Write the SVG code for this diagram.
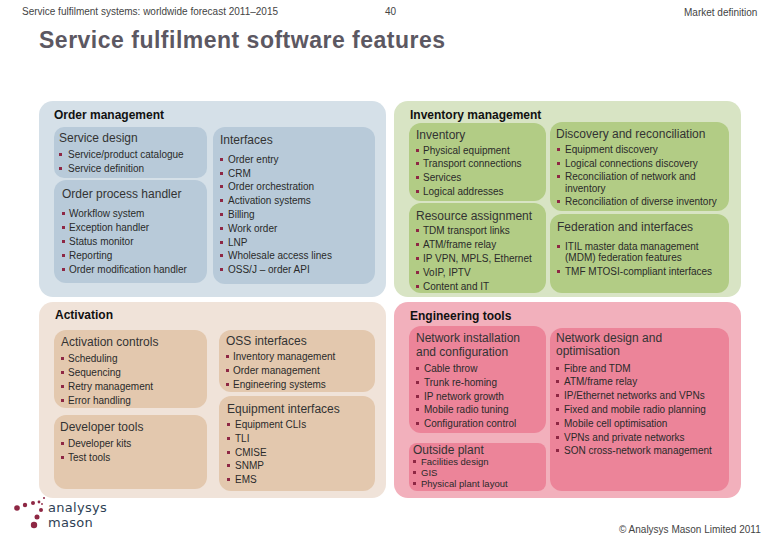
<svg xmlns="http://www.w3.org/2000/svg" width="780" height="540" viewBox="0 0 780 540">
<style>
text{font-family:"Liberation Sans",Arial,sans-serif;fill:#1e1e1e}
.t{font-size:10px;fill:#444}
.title{font-size:23px;font-weight:700;fill:#5c5862;letter-spacing:.5px}
.h{font-size:12px;font-weight:700;fill:#111}
.s{font-size:12px;fill:#333}
.i{font-size:10px;fill:#2a2a2a}
.n{font-size:9.5px}
.b{fill:#8e2744}
.m{fill:#2f3f55;font-family:"DejaVu Sans",sans-serif;font-size:13px;letter-spacing:.3px}
</style>
<defs><rect id="b" x="0" y="-5" width="3" height="3" class="b"/></defs>
<rect width="780" height="540" fill="#fff"/>
<text class="t" x="22" y="15">Service fulfilment systems: worldwide forecast 2011–2015</text>
<text class="t" x="385" y="15">40</text>
<text class="t" x="684" y="16">Market definition</text>
<text class="title" x="39" y="48">Service fulfilment software features</text>

<g id="order-management">
<rect x="39" y="101" width="347" height="196" rx="14" fill="#d5e0e8"/>
<text class="h" x="54" y="119">Order management</text>
<g id="service-design"><rect x="54" y="127" width="153" height="51" rx="10" fill="#b8cad9"/>
<text class="s" x="59" y="142">Service design</text>
<use href="#b" x="59" y="158"/><text class="i" x="68" y="158">Service/product catalogue</text>
<use href="#b" x="59" y="172"/><text class="i" x="68" y="172">Service definition</text></g>
<g id="order-process-handler"><rect x="54" y="180" width="153" height="103" rx="12" fill="#b8cad9"/>
<text class="s" x="62" y="198">Order process handler</text>
<use href="#b" x="62" y="217"/><text class="i" x="69" y="217">Workflow system</text>
<use href="#b" x="62" y="231"/><text class="i" x="69" y="231">Exception handler</text>
<use href="#b" x="62" y="245"/><text class="i" x="69" y="245">Status monitor</text>
<use href="#b" x="62" y="259"/><text class="i" x="69" y="259">Reporting</text>
<use href="#b" x="62" y="273"/><text class="i" x="69" y="273">Order modification handler</text></g>
<g id="interfaces"><rect x="213" y="127" width="162" height="157" rx="12" fill="#b8cad9"/>
<text class="s" x="220" y="144">Interfaces</text>
<use href="#b" x="220" y="163"/><text class="i" x="228" y="163">Order entry</text>
<use href="#b" x="220" y="177"/><text class="i" x="228" y="177">CRM</text>
<use href="#b" x="220" y="190"/><text class="i" x="228" y="190">Order orchestration</text>
<use href="#b" x="220" y="204"/><text class="i" x="228" y="204">Activation systems</text>
<use href="#b" x="220" y="218"/><text class="i" x="228" y="218">Billing</text>
<use href="#b" x="220" y="232"/><text class="i" x="228" y="232">Work order</text>
<use href="#b" x="220" y="246"/><text class="i" x="228" y="246">LNP</text>
<use href="#b" x="220" y="259"/><text class="i" x="228" y="259">Wholesale access lines</text>
<use href="#b" x="220" y="273"/><text class="i" x="228" y="273">OSS/J – order API</text></g>
</g>

<g id="inventory-management">
<rect x="394" y="101" width="347" height="196" rx="14" fill="#d8e4c4"/>
<text class="h" x="410" y="119">Inventory management</text>
<g id="inventory"><rect x="409" y="123" width="137" height="78" rx="12" fill="#b2cc85"/>
<text class="s" x="416" y="139">Inventory</text>
<use href="#b" x="416" y="154"/><text class="i" x="423" y="154">Physical equipment</text>
<use href="#b" x="416" y="167"/><text class="i" x="423" y="167">Transport connections</text>
<use href="#b" x="416" y="181"/><text class="i" x="423" y="181">Services</text>
<use href="#b" x="416" y="195"/><text class="i" x="423" y="195">Logical addresses</text></g>
<g id="resource-assignment"><rect x="409" y="203" width="137" height="90" rx="12" fill="#b2cc85"/>
<text class="s" x="416" y="220">Resource assignment</text>
<use href="#b" x="416" y="234"/><text class="i" x="423" y="234">TDM transport links</text>
<use href="#b" x="416" y="248"/><text class="i" x="423" y="248">ATM/frame relay</text>
<use href="#b" x="416" y="262"/><text class="i" x="423" y="262">IP VPN, MPLS, Ethernet</text>
<use href="#b" x="416" y="276"/><text class="i" x="423" y="276">VoIP, IPTV</text>
<use href="#b" x="416" y="290"/><text class="i" x="423" y="290">Content and IT</text></g>
<g id="discovery"><rect x="550" y="122" width="179" height="89" rx="12" fill="#b2cc85"/>
<text class="s" x="556" y="138">Discovery and reconciliation</text>
<use href="#b" x="557" y="153"/><text class="i" x="565" y="153">Equipment discovery</text>
<use href="#b" x="557" y="167"/><text class="i" x="565" y="167">Logical connections discovery</text>
<use href="#b" x="557" y="180"/><text class="i" x="565" y="180">Reconciliation of network and</text>
<text class="i" x="565" y="192">inventory</text>
<use href="#b" x="557" y="205"/><text class="i" x="565" y="205">Reconciliation of diverse inventory</text></g>
<g id="federation"><rect x="550" y="214" width="179" height="79" rx="12" fill="#b2cc85"/>
<text class="s" x="557" y="231">Federation and interfaces</text>
<use href="#b" x="557" y="250"/><text class="i" x="565" y="250">ITIL master data management</text>
<text class="i" x="565" y="261">(MDM) federation features</text>
<use href="#b" x="557" y="275"/><text class="i" x="565" y="275">TMF MTOSI-compliant interfaces</text></g>
</g>

<g id="activation">
<rect x="39" y="302" width="347" height="196" rx="14" fill="#f0e3d9"/>
<text class="h" x="55" y="319">Activation</text>
<g id="activation-controls"><rect x="54" y="330" width="153" height="78" rx="12" fill="#e3c8ae"/>
<text class="s" x="61" y="346">Activation controls</text>
<use href="#b" x="61" y="362"/><text class="i" x="68" y="362">Scheduling</text>
<use href="#b" x="61" y="376"/><text class="i" x="68" y="376">Sequencing</text>
<use href="#b" x="61" y="390"/><text class="i" x="68" y="390">Retry management</text>
<use href="#b" x="61" y="404"/><text class="i" x="68" y="404">Error handling</text></g>
<g id="developer-tools"><rect x="54" y="415" width="153" height="74" rx="12" fill="#e3c8ae"/>
<text class="s" x="60" y="431">Developer tools</text>
<use href="#b" x="61" y="447"/><text class="i" x="68" y="447">Developer kits</text>
<use href="#b" x="61" y="461"/><text class="i" x="68" y="461">Test tools</text></g>
<g id="oss-interfaces"><rect x="219" y="330" width="156" height="62" rx="12" fill="#e3c8ae"/>
<text class="s" x="226" y="345">OSS interfaces</text>
<use href="#b" x="226" y="360"/><text class="i" x="233" y="360">Inventory management</text>
<use href="#b" x="226" y="374"/><text class="i" x="233" y="374">Order management</text>
<use href="#b" x="226" y="388"/><text class="i" x="233" y="388">Engineering systems</text></g>
<g id="equipment-interfaces"><rect x="219" y="396" width="156" height="95" rx="12" fill="#e3c8ae"/>
<text class="s" x="227" y="413">Equipment interfaces</text>
<use href="#b" x="227" y="428"/><text class="i" x="235" y="428">Equipment CLIs</text>
<use href="#b" x="227" y="442"/><text class="i" x="235" y="442">TLI</text>
<use href="#b" x="227" y="456"/><text class="i" x="235" y="456">CMISE</text>
<use href="#b" x="227" y="469"/><text class="i" x="235" y="469">SNMP</text>
<use href="#b" x="227" y="483"/><text class="i" x="235" y="483">EMS</text></g>
</g>

<g id="engineering-tools">
<rect x="394" y="302" width="347" height="196" rx="14" fill="#f2b0bc"/>
<text class="h" x="410" y="320">Engineering tools</text>
<g id="network-installation"><rect x="409" y="326" width="137" height="107" rx="12" fill="#ec8499"/>
<text class="s" x="416" y="342">Network installation</text>
<text class="s" x="416" y="356">and configuration</text>
<use href="#b" x="416" y="372"/><text class="i" x="424" y="372">Cable throw</text>
<use href="#b" x="416" y="386"/><text class="i" x="424" y="386">Trunk re-homing</text>
<use href="#b" x="416" y="400"/><text class="i" x="424" y="400">IP network growth</text>
<use href="#b" x="416" y="413"/><text class="i" x="424" y="413">Mobile radio tuning</text>
<use href="#b" x="416" y="427"/><text class="i" x="424" y="427">Configuration control</text></g>
<g id="outside-plant"><rect x="409" y="443" width="137" height="48" rx="8" fill="#ec8499"/>
<text class="s" x="413" y="454">Outside plant</text>
<use href="#b" x="413" y="465"/><text class="i n" x="421" y="465">Facilities design</text>
<use href="#b" x="413" y="476"/><text class="i n" x="421" y="476">GIS</text>
<use href="#b" x="413" y="487"/><text class="i n" x="421" y="487">Physical plant layout</text></g>
<g id="network-design"><rect x="550" y="328" width="179" height="163" rx="12" fill="#ec8499"/>
<text class="s" x="556" y="342">Network design and</text>
<text class="s" x="556" y="355">optimisation</text>
<use href="#b" x="556" y="372"/><text class="i" x="564" y="372">Fibre and TDM</text>
<use href="#b" x="556" y="385"/><text class="i" x="564" y="385">ATM/frame relay</text>
<use href="#b" x="556" y="399"/><text class="i" x="564" y="399">IP/Ethernet networks and VPNs</text>
<use href="#b" x="556" y="413"/><text class="i" x="564" y="413">Fixed and mobile radio planning</text>
<use href="#b" x="556" y="427"/><text class="i" x="564" y="427">Mobile cell optimisation</text>
<use href="#b" x="556" y="441"/><text class="i" x="564" y="441">VPNs and private networks</text>
<use href="#b" x="556" y="454"/><text class="i" x="564" y="454">SON cross-network management</text></g>
</g>

<g id="logo">
<g class="b"><circle cx="17" cy="508" r="2.8"/><circle cx="25" cy="505" r="2.2"/><circle cx="33" cy="503" r="2"/><circle cx="39" cy="502" r="1.4"/><circle cx="44" cy="498" r="1"/><circle cx="42" cy="504" r=".9"/><circle cx="41" cy="510" r="2"/><circle cx="37" cy="517" r="2.5"/><circle cx="34" cy="525" r="3.2"/></g>
<text class="m" x="48" y="512">analysys</text>
<text class="m" x="48" y="527">mason</text>
</g>
<text class="t" x="619" y="533">© Analysys Mason Limited 2011</text>
</svg>
